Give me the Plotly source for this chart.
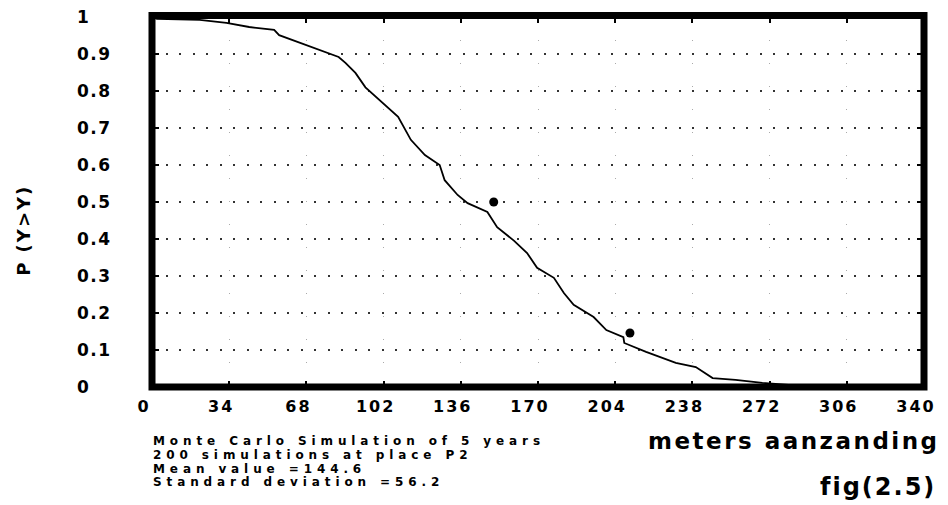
import plotly.graph_objects as go

# ---- data ----
curve_x = [0, 2.2, 21, 32.8, 42.8, 53.8, 56, 64.7, 73.4, 82.2, 85.2, 89.6, 94, 101,
           108.4, 114, 120.2, 126.7, 128.9, 134.6, 139, 147.7, 152, 159.5, 165.2,
           169.6, 177, 181.4, 185.7, 194.5, 200.1, 207.6, 208, 217.6, 223.3, 230.7,
           239.5, 246.9, 257, 268.8, 284.5, 285.4]
curve_y = [1.0, 0.995, 0.992, 0.984, 0.973, 0.965, 0.951, 0.932, 0.911, 0.892, 0.876,
           0.849, 0.81, 0.772, 0.73, 0.668, 0.627, 0.6, 0.559, 0.519, 0.497, 0.473,
           0.432, 0.395, 0.362, 0.322, 0.295, 0.254, 0.222, 0.189, 0.154, 0.135,
           0.119, 0.095, 0.081, 0.065, 0.054, 0.024, 0.019, 0.011, 0.004, 0.0]
dot_x = [150.5, 210.5]
dot_y = [0.5, 0.146]

x_tick_vals = [0, 34, 68, 102, 136, 170, 204, 238, 272, 306, 340]
x_tick_text = ["0", "34", "68", "102", "136", "170", "204", "238", "272", "306", "340"]
y_tick_vals = [0, 0.1, 0.2, 0.3, 0.4, 0.5, 0.6, 0.7, 0.8, 0.9, 1]
y_tick_text = ["0", "0.1", "0.2", "0.3", "0.4", "0.5", "0.6", "0.7", "0.8", "0.9", "1"]

info_lines = ["Monte Carlo Simulation of 5 years",
              "200 simulations at place P2",
              "Mean value =144.6",
              "Standard deviation =56.2"]
x_title = "meters aanzanding"
y_title = "P (Y>Y)"
fig_label = "fig(2.5)"

# ---- layout geometry (pixels) ----
W, H = 948, 505
L, R, T, B = 152, 929, 17, 387
pw, ph = R - L, B - T


def px(x):
    return (x - L) / pw


def py(y):
    return (B - y) / ph


def spaced(text, sp):
    return '<span style="letter-spacing:%spx">%s</span>' % (sp, text)


FONT = "DejaVu Sans"

fig = go.Figure()
fig.add_trace(go.Scatter(x=curve_x, y=curve_y, mode="lines",
                         line=dict(color="black", width=1.8), hoverinfo="skip"))
fig.add_trace(go.Scatter(x=dot_x, y=dot_y, mode="markers",
                         marker=dict(color="black", size=9), hoverinfo="skip"))

annotations = []
for v, t in zip(y_tick_vals, y_tick_text):
    annotations.append(dict(x=px(75), y=v, xref="paper", yref="y", text=spaced(t, 1.5),
                            showarrow=False, xanchor="left", yanchor="middle",
                            font=dict(family=FONT, size=17, color="black", weight="bold")))
for i, line in enumerate(info_lines):
    annotations.append(dict(x=0, y=py(441 + 13.8 * i), xref="paper", yref="paper",
                            text=spaced(line, 4.9), showarrow=False, borderpad=0,
                            xanchor="left", yanchor="middle",
                            font=dict(family=FONT, size=12, color="black", weight="bold")))
annotations.append(dict(x=px(947), y=py(441), xref="paper", yref="paper",
                        text=spaced(x_title, 2.5), showarrow=False,
                        xanchor="right", yanchor="middle",
                        font=dict(family=FONT, size=23, color="black", weight="bold")))
annotations.append(dict(x=px(943), y=py(487), xref="paper", yref="paper",
                        text=spaced(fig_label, 2), showarrow=False,
                        xanchor="right", yanchor="middle",
                        font=dict(family=FONT, size=24, color="black", weight="bold")))
annotations.append(dict(x=px(22), y=py(230), xref="paper", yref="paper",
                        text=spaced(y_title, 2), showarrow=False, textangle=-90,
                        xanchor="center", yanchor="middle",
                        font=dict(family=FONT, size=18, color="black", weight="bold")))

fig.update_layout(
    width=W, height=H,
    margin=dict(l=L, r=W - R, t=T, b=H - B, pad=0),
    paper_bgcolor="white", plot_bgcolor="white",
    showlegend=False,
    annotations=annotations,
    shapes=[dict(type="rect", xref="paper", yref="paper", x0=0, x1=1, y0=0, y1=1.004,
                 line=dict(color="black", width=7), layer="above")],
)
fig.update_xaxes(range=[0, 340], tickvals=x_tick_vals,
                 ticktext=[spaced(t, 2) for t in x_tick_text],
                 ticks="inside", ticklen=6, tickwidth=1.5, tickcolor="black",
                 mirror="ticks", showline=False, zeroline=False,
                 showgrid=True, gridcolor="#aaaaaa", gridwidth=1, griddash="1px,22px",
                 tickfont=dict(family=FONT, size=16, color="black", weight="bold"),
                 ticklabelshift=-8, ticklabelstandoff=8)
fig.update_yaxes(range=[0, 1], tickvals=y_tick_vals, showticklabels=False,
                 ticks="inside", ticklen=7, tickwidth=1.5, tickcolor="black",
                 mirror="ticks", showline=False, zeroline=False,
                 showgrid=True, gridcolor="#333333", gridwidth=2, griddash="2px,11.5px")

fig.write_html("out.html")
